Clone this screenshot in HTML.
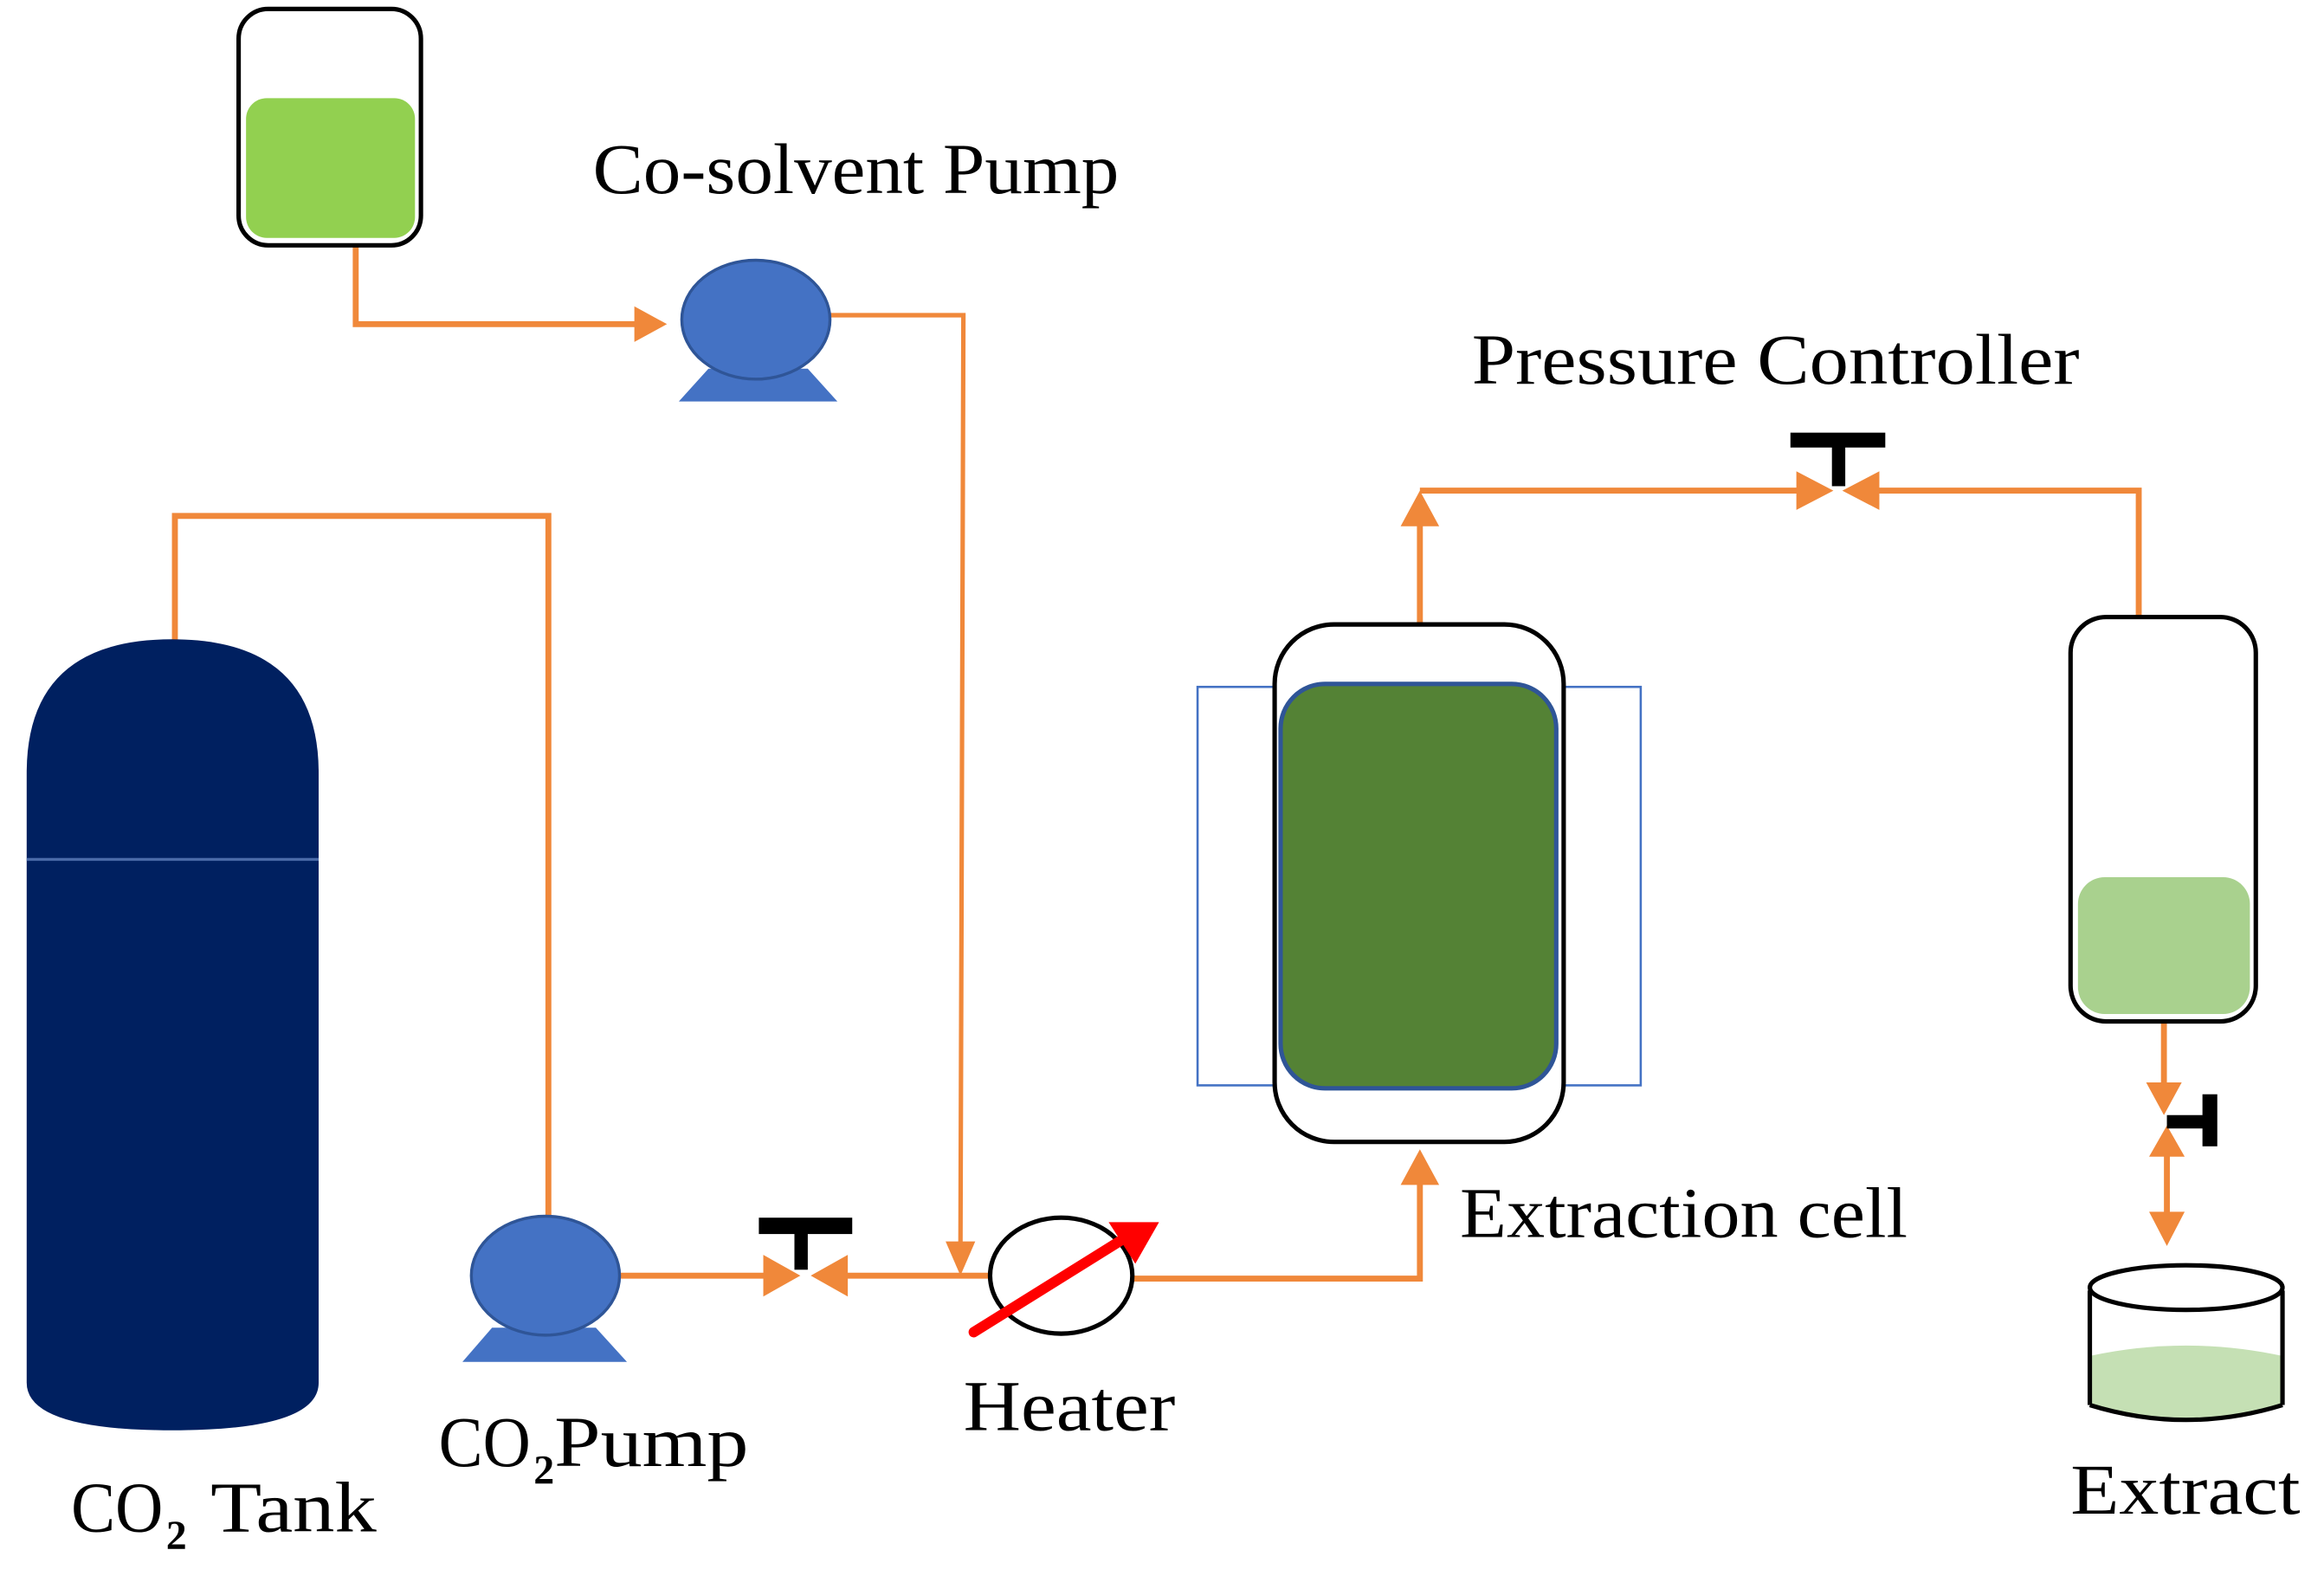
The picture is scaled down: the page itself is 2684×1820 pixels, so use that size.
<!DOCTYPE html>
<html><head><meta charset="utf-8"><style>
html,body{margin:0;padding:0;background:#fff;width:2684px;height:1820px;overflow:hidden}
svg{display:block}
text{font-family:"Liberation Serif",serif;font-size:48px;fill:#000}
text.sub{font-size:28px;font-weight:bold}
</style></head><body>
<svg width="2684" height="1820" viewBox="0 0 1568 1060" preserveAspectRatio="none">
<g fill="none" stroke="#f0883a" stroke-width="4">
<polyline points="240,165 240,218 435,218"/>
<path d="M428,206L450,218L428,230z" fill="#f0883a" stroke="none"/>
<polyline points="560,212 650,212 648,845" stroke-width="3"/>
<path d="M638,835L648,858L658,835z" fill="#f0883a" stroke="none"/>
<polyline points="118,432 118,347 370,347 370,822"/>
<line x1="418" y1="858" x2="530" y2="858"/>
<path d="M515,844L540,858L515,872z" fill="#f0883a" stroke="none"/>
<line x1="668" y1="858" x2="555" y2="858"/>
<path d="M572,844L547,858L572,872z" fill="#f0883a" stroke="none"/>
<polyline points="765,860 958,860 958,790"/>
<path d="M945,797L958,773L971,797z" fill="#f0883a" stroke="none"/>
<polyline points="958,420 958,345"/>
<path d="M945,354L958,330L971,354z" fill="#f0883a" stroke="none"/>
<line x1="958" y1="330" x2="1225" y2="330"/>
<path d="M1212,317L1237,330L1212,343z" fill="#f0883a" stroke="none"/>
<polyline points="1443,415 1443,330 1258,330"/>
<path d="M1268,317L1243,330L1268,343z" fill="#f0883a" stroke="none"/>
<line x1="1460" y1="687" x2="1460" y2="740"/>
<path d="M1448,728L1460,750L1472,728z" fill="#f0883a" stroke="none"/>
<line x1="1462" y1="765" x2="1462" y2="820"/>
<path d="M1450,778L1462,757L1474,778z" fill="#f0883a" stroke="none"/>
<path d="M1450,815L1462,838L1474,815z" fill="#f0883a" stroke="none"/>
</g>
<g fill="#000">
<rect x="512" y="819" width="63" height="11"/><rect x="536" y="828" width="9" height="26"/>
<rect x="1208" y="291" width="64" height="10"/><rect x="1236" y="299" width="9" height="28"/>
<rect x="1462" y="750" width="30" height="9"/><rect x="1486" y="736" width="10" height="35"/>
</g>
<rect x="161" y="6" width="123" height="159" rx="20" fill="#fff" stroke="#000" stroke-width="3"/>
<rect x="166" y="66" width="114" height="94" rx="14" fill="#92d050"/>
<path d="M458,270L478,248L545,248L565,270z" fill="#4472c4"/>
<ellipse cx="510" cy="215" rx="50" ry="40" fill="#4472c4" stroke="#2f5597" stroke-width="2"/>
<path d="M312,916L332,893L402,893L423,916z" fill="#4472c4"/>
<ellipse cx="368" cy="858" rx="50" ry="40" fill="#4472c4" stroke="#2f5597" stroke-width="2"/>
<path d="M18,520Q18,430 116,430Q215,430 215,520L215,930Q215,962 116,962Q18,962 18,930Z" fill="#002060"/>
<line x1="18" y1="578" x2="215" y2="578" stroke="#4a6aa8" stroke-width="2"/>
<ellipse cx="716" cy="858" rx="48" ry="39" fill="#fff" stroke="#000" stroke-width="3"/>
<line x1="657" y1="896" x2="760" y2="832" stroke="#f00" stroke-width="7" stroke-linecap="round"/>
<path d="M748,822L782,822L766,850z" fill="#f00"/>
<rect x="808" y="462" width="299" height="268" fill="none" stroke="#4472c4" stroke-width="1.5"/>
<rect x="860" y="420" width="195" height="348" rx="40" fill="#fff" stroke="#000" stroke-width="3"/>
<rect x="864" y="460" width="186" height="272" rx="30" fill="#548235" stroke="#2f5597" stroke-width="3"/>
<rect x="1397" y="415" width="125" height="272" rx="24" fill="#fff" stroke="#000" stroke-width="3"/>
<rect x="1402" y="590" width="116" height="92" rx="18" fill="#a9d18e"/>
<path d="M1410,912Q1475,898 1540,912L1540,945Q1475,962 1410,945Z" fill="#c5e0b4"/>
<line x1="1410" y1="868" x2="1410" y2="945" stroke="#000" stroke-width="3"/>
<line x1="1540" y1="868" x2="1540" y2="945" stroke="#000" stroke-width="3"/>
<path d="M1410,945Q1475,965 1540,945" fill="none" stroke="#000" stroke-width="3"/>
<ellipse cx="1475" cy="866" rx="65" ry="15" fill="#fff" stroke="#000" stroke-width="3"/>
<text x="400" y="130" textLength="355" lengthAdjust="spacingAndGlyphs">Co-solvent Pump</text>
<text x="993" y="258" textLength="410" lengthAdjust="spacingAndGlyphs">Pressure Controller</text>
<text x="985" y="832" textLength="302" lengthAdjust="spacingAndGlyphs">Extraction cell</text>
<text x="650" y="962" textLength="143" lengthAdjust="spacingAndGlyphs">Heater</text>
<text x="296" y="986" textLength="62" lengthAdjust="spacingAndGlyphs">CO</text>
<text class="sub" x="360" y="998">2</text>
<text x="374" y="986" textLength="131" lengthAdjust="spacingAndGlyphs">Pump</text>
<text x="48" y="1030" textLength="62" lengthAdjust="spacingAndGlyphs">CO</text>
<text class="sub" x="112" y="1042">2</text>
<text x="142" y="1030" textLength="112" lengthAdjust="spacingAndGlyphs">Tank</text>
<text x="1397" y="1018" textLength="155" lengthAdjust="spacingAndGlyphs">Extract</text>
</svg>
</body></html>
